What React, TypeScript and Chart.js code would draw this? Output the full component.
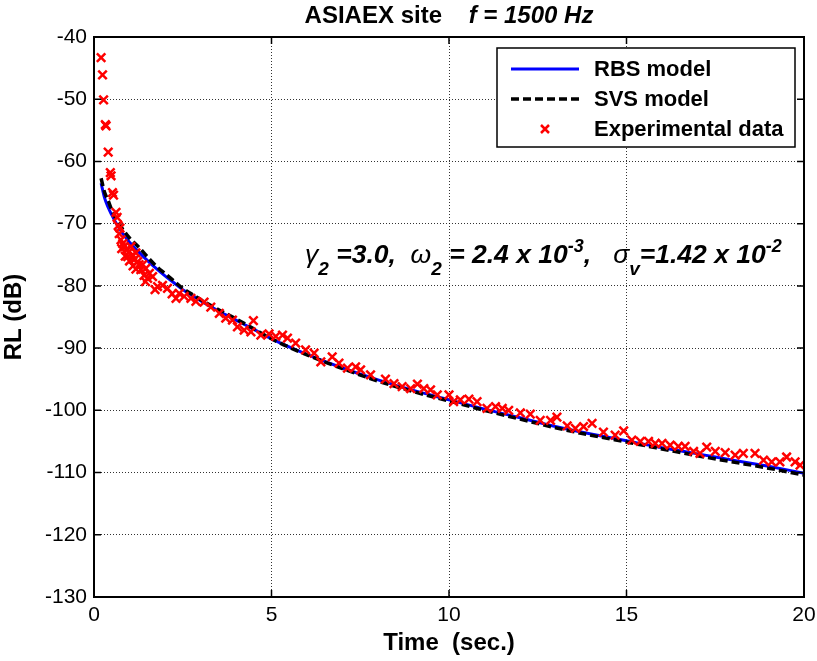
import React, { useEffect, useRef } from 'react';
import { Chart, registerables } from 'chart.js';

Chart.register(...registerables);

// ---- Data ----
const modelTimes = [0.2, 0.3, 0.4, 0.5, 0.6, 0.8, 1.0, 1.25, 1.5, 1.75, 2.0, 2.25, 2.5, 2.75, 3.0, 3.5, 4.0, 4.5, 5, 6, 7, 8, 9, 10, 11, 12, 13, 14, 15, 16, 17, 18, 19, 20];
const rbsValues = [-63.5, -65.9, -67.4, -68.6, -69.7, -71.5, -73.0, -74.5, -75.9, -77.2, -78.4, -79.5, -80.6, -81.5, -82.4, -84.0, -85.5, -87.0, -88.5, -91.0, -93.2, -95.1, -96.8, -98.3, -99.8, -101.2, -102.6, -103.8, -104.9, -106.0, -107.0, -108.0, -109.0, -110.1];
const svsValues = [-62.7, -65.0, -66.3, -67.8, -69.0, -70.8, -72.3, -73.7, -75.3, -76.8, -78.0, -79.2, -80.4, -81.3, -82.2, -83.8, -85.3, -86.9, -88.5, -91.1, -93.3, -95.3, -97.0, -98.5, -100.0, -101.4, -102.8, -104.0, -105.1, -106.2, -107.3, -108.3, -109.3, -110.4];

const expTimes = [0.20, 0.24, 0.27, 0.32, 0.34, 0.40, 0.46, 0.48, 0.52, 0.55, 0.62, 0.65, 0.68, 0.71, 0.73, 0.76, 0.78, 0.81, 0.85, 0.88, 0.90, 0.95, 0.99, 1.00, 1.04, 1.09, 1.10, 1.13, 1.18, 1.18, 1.23, 1.27, 1.32, 1.37, 1.41, 1.45, 1.46, 1.51, 1.56, 1.65, 1.72, 1.79, 1.93, 2.07, 2.20, 2.31, 2.40, 2.54, 2.73, 2.87, 3.10, 3.29, 3.53, 3.71, 3.90, 4.04, 4.23, 4.42, 4.49, 4.70, 4.93, 5.12, 5.31, 5.45, 5.68, 5.96, 6.20, 6.39, 6.71, 6.90, 7.14, 7.37, 7.51, 7.79, 8.21, 8.45, 8.68, 8.92, 9.11, 9.29, 9.48, 9.67, 10.00, 10.13, 10.32, 10.56, 10.79, 11.07, 11.31, 11.50, 11.68, 12.01, 12.29, 12.57, 12.86, 13.04, 13.33, 13.56, 13.79, 14.03, 14.35, 14.68, 14.92, 15.15, 15.39, 15.62, 15.81, 16.00, 16.23, 16.46, 16.65, 16.89, 17.07, 17.26, 17.50, 17.78, 18.06, 18.29, 18.62, 18.86, 19.09, 19.32, 19.51, 19.75, 19.89];
const expValues = [-43.3, -46.1, -50.1, -54.1, -54.3, -58.5, -61.8, -62.3, -65.0, -65.4, -68.2, -69.0, -70.3, -71.6, -70.7, -72.6, -74.0, -73.2, -73.7, -75.2, -74.2, -75.3, -74.5, -76.0, -73.7, -75.0, -76.8, -75.8, -74.7, -77.3, -76.1, -76.6, -77.4, -76.6, -78.3, -79.3, -77.2, -78.8, -78.0, -78.5, -80.6, -80.1, -79.9, -80.4, -81.3, -82.0, -81.2, -81.7, -82.0, -82.5, -82.6, -83.4, -84.4, -85.2, -85.5, -86.6, -87.1, -87.4, -85.6, -87.9, -87.7, -88.1, -87.9, -88.4, -89.2, -90.3, -90.8, -92.2, -91.4, -92.4, -93.2, -93.0, -93.5, -94.3, -95.0, -95.7, -96.2, -96.5, -95.8, -96.5, -96.7, -97.5, -97.5, -98.6, -98.3, -98.2, -98.6, -99.7, -99.4, -99.7, -100.0, -100.4, -100.6, -101.6, -101.6, -101.1, -102.5, -102.9, -102.6, -102.1, -103.5, -104.0, -103.3, -104.8, -105.0, -105.0, -105.3, -105.3, -105.6, -105.8, -105.8, -106.6, -106.9, -105.9, -106.6, -106.8, -107.2, -106.9, -106.9, -108.0, -108.3, -108.3, -107.5, -108.3, -108.8];

const xMin = 0;
const xMax = 20;
const xStep = 5;
const yMin = -130;
const yMax = -40;
const yStep = 10;

const titleMain = 'ASIAEX site';
const titleFreq = 'f = 1500 Hz';
const xTitle = 'Time  (sec.)';
const yTitle = 'RL (dB)';
const seriesLabels = ['RBS model', 'SVS model', 'Experimental data'];

const FONT = "'Liberation Sans', Arial, Helvetica, sans-serif";

// annotation pieces: [text, kind] kind: n=normal, s=sub, p=sup, g=greek
const annotationPieces: [string, string][] = [
  ['γ', 'g'], ['2', 's'], [' =3.0,  ', 'n'],
  ['ω', 'g'], ['2', 's'], [' = 2.4 x 10', 'n'], ['-3', 'p'], [',   ', 'n'],
  ['σ', 'g'], ['v', 's'], ['=1.42 x 10', 'n'], ['-2', 'p'],
];

const framePlugin = {
  id: 'frame',
  afterDraw(chart: any) {
    const { ctx, chartArea } = chart;
    const { left, right, top, bottom } = chartArea;
    ctx.save();
    ctx.strokeStyle = '#000';
    // inward ticks
    ctx.lineWidth = 1.5;
    const xs = chart.scales.x;
    const ys = chart.scales.y;
    const tl = 7;
    ctx.beginPath();
    xs.ticks.forEach((t: any) => {
      const px = xs.getPixelForValue(t.value);
      ctx.moveTo(px, bottom); ctx.lineTo(px, bottom - tl);
      ctx.moveTo(px, top); ctx.lineTo(px, top + tl);
    });
    ys.ticks.forEach((t: any) => {
      const py = ys.getPixelForValue(t.value);
      ctx.moveTo(left, py); ctx.lineTo(left + tl, py);
      ctx.moveTo(right, py); ctx.lineTo(right - tl, py);
    });
    ctx.stroke();
    ctx.lineWidth = 2;
    ctx.strokeRect(left, top, right - left, bottom - top);

    // title
    ctx.fillStyle = '#000';
    ctx.textBaseline = 'alphabetic';
    ctx.textAlign = 'left';
    ctx.font = `bold 24px ${FONT}`;
    const w1 = ctx.measureText(titleMain).width;
    const gap = ctx.measureText('    ').width;
    ctx.font = `italic bold 24px ${FONT}`;
    const w2 = ctx.measureText(titleFreq).width;
    const cx = (left + right) / 2;
    const x0 = cx - (w1 + gap + w2) / 2;
    ctx.font = `bold 24px ${FONT}`;
    ctx.fillText(titleMain, x0, 23);
    ctx.font = `italic bold 24px ${FONT}`;
    ctx.fillText(titleFreq, x0 + w1 + gap, 23);

    // annotation
    let ax = 305;
    const base = 263;
    annotationPieces.forEach(([txt, kind]) => {
      let size = 26.5;
      let y = base;
      let font = `italic bold ${size}px ${FONT}`;
      if (kind === 's') { size = 19; y = base + 12; font = `italic bold ${size}px ${FONT}`; }
      if (kind === 'p') { size = 18; y = base - 11; font = `italic bold ${size}px ${FONT}`; }
      if (kind === 'g') { font = `italic ${size}px ${FONT}`; }
      ctx.font = font;
      ctx.fillText(txt, ax, y);
      ax += ctx.measureText(txt).width;
    });

    // legend
    const lx = 497, ly = 48, lw = 298, lh = 99;
    ctx.fillStyle = '#fff';
    ctx.fillRect(lx, ly, lw, lh);
    ctx.lineWidth = 1.5;
    ctx.strokeStyle = '#000';
    ctx.strokeRect(lx, ly, lw, lh);
    const rows = [69, 99, 129];
    const ds = chart.data.datasets;
    ctx.lineWidth = ds[0].borderWidth;
    ctx.strokeStyle = ds[0].borderColor;
    ctx.setLineDash([]);
    ctx.beginPath(); ctx.moveTo(511, rows[0]); ctx.lineTo(579, rows[0]); ctx.stroke();
    ctx.lineWidth = ds[1].borderWidth;
    ctx.strokeStyle = ds[1].borderColor;
    ctx.setLineDash(ds[1].borderDash);
    ctx.beginPath(); ctx.moveTo(511, rows[1]); ctx.lineTo(579, rows[1]); ctx.stroke();
    ctx.setLineDash([]);
    ctx.strokeStyle = ds[2].borderColor;
    ctx.lineWidth = 2.5;
    const r = 4;
    ctx.beginPath();
    ctx.moveTo(545 - r, rows[2] - r); ctx.lineTo(545 + r, rows[2] + r);
    ctx.moveTo(545 + r, rows[2] - r); ctx.lineTo(545 - r, rows[2] + r);
    ctx.stroke();
    ctx.fillStyle = '#000';
    ctx.font = `bold 22px ${FONT}`;
    ctx.textBaseline = 'middle';
    seriesLabels.forEach((lab, i) => ctx.fillText(lab, 594, rows[i] + 1));
    ctx.restore();
  },
};

export default function App() {
  const ref = useRef<HTMLCanvasElement | null>(null);
  useEffect(() => {
    if (!ref.current) return;
    const rbs = modelTimes.map((t, i) => ({ x: t, y: rbsValues[i] }));
    const svs = modelTimes.map((t, i) => ({ x: t, y: svsValues[i] }));
    const exp = expTimes.map((t, i) => ({ x: t, y: expValues[i] }));
    const chart = new Chart(ref.current, {
      type: 'scatter',
      data: {
        datasets: [
          { label: seriesLabels[0], data: rbs, showLine: true, borderColor: '#0000ff', backgroundColor: '#0000ff', borderWidth: 3, pointRadius: 0, cubicInterpolationMode: 'monotone', order: 3 },
          { label: seriesLabels[1], data: svs, showLine: true, borderColor: '#000000', backgroundColor: '#000000', borderWidth: 3.5, borderDash: [8, 4], pointRadius: 0, cubicInterpolationMode: 'monotone', order: 2 },
          { label: seriesLabels[2], data: exp, showLine: false, borderColor: '#ff0000', backgroundColor: '#ff0000', pointStyle: 'crossRot', pointRadius: 6, borderWidth: 2.5, order: 1 },
        ] as any,
      },
      options: {
        responsive: false,
        animation: false,
        devicePixelRatio: 1,
        layout: { padding: { top: 37, right: 13, left: 0, bottom: 0 } },
        plugins: { legend: { display: false }, title: { display: false }, tooltip: { enabled: false } },
        scales: {
          x: {
            type: 'linear', min: xMin, max: xMax,
            ticks: { stepSize: xStep, color: '#000', font: { family: FONT, size: 21 }, padding: 6, maxRotation: 0 },
            grid: { color: 'rgba(0,0,0,0.8)', lineWidth: 1, drawTicks: false },
            border: { display: true, color: '#000', width: 2, dash: [1, 2] },
            title: { display: true, text: xTitle, color: '#000', font: { family: FONT, size: 24, weight: 'bold', lineHeight: 1.2 }, padding: { top: 0, bottom: 3 } },
            afterFit: (s: any) => { s.height = 64; s.paddingRight = 0; s.paddingLeft = 0; },
          },
          y: {
            type: 'linear', min: yMin, max: yMax,
            ticks: { stepSize: yStep, color: '#000', font: { family: FONT, size: 21 }, padding: 7 },
            grid: { color: 'rgba(0,0,0,0.8)', lineWidth: 1, drawTicks: false },
            border: { display: true, color: '#000', width: 2, dash: [1, 2] },
            title: { display: true, text: yTitle, color: '#000', font: { family: FONT, size: 24, weight: 'bold', lineHeight: 1.2 }, padding: { top: 0, bottom: 0 } },
            afterFit: (s: any) => { s.width = 94; s.paddingTop = 0; s.paddingBottom = 0; },
          },
        },
      } as any,
      plugins: [framePlugin],
    });
    return () => chart.destroy();
  }, []);
  return (
    <div style={{ position: 'fixed', left: 0, top: 0, width: 817, height: 661, background: '#fff' }}>
      <canvas ref={ref} width={817} height={661} style={{ display: 'block', width: 817, height: 661 }} />
    </div>
  );
}
